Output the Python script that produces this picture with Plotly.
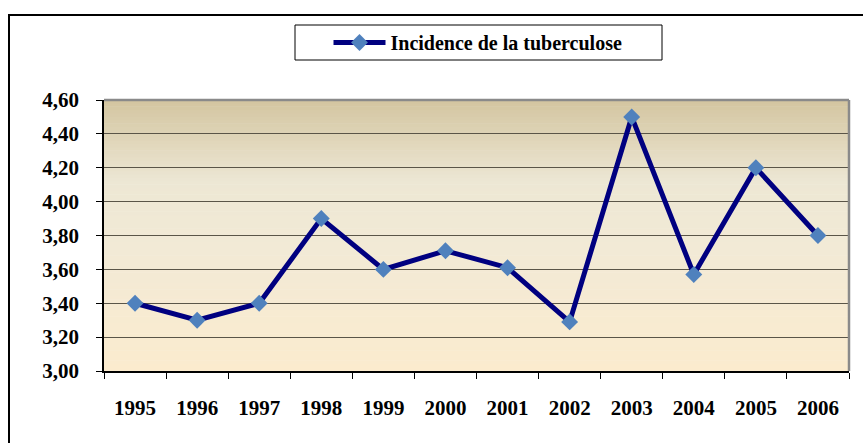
import plotly.graph_objects as go

years = ["1995", "1996", "1997", "1998", "1999", "2000", "2001", "2002", "2003", "2004", "2005", "2006"]
incidence = [3.40, 3.30, 3.40, 3.90, 3.60, 3.71, 3.61, 3.29, 4.50, 3.57, 4.20, 3.80]
series_name = "Incidence de la tuberculose"
y_ticks = [3.0, 3.2, 3.4, 3.6, 3.8, 4.0, 4.2, 4.4, 4.6]

FONT = "Liberation Serif"

fig = go.Figure()
fig.add_trace(go.Scatter(
    x=years, y=incidence, name=series_name, mode="lines+markers",
    line=dict(color="#000080", width=5),
    marker=dict(symbol="diamond", size=13, color="#4F81BD"),
))

L, R, T, B = 104, 14, 100, 72
W, H = 863, 443
pw, ph = W - L - R, H - T - B
def px(x):
    return (x - L) / pw
def py(y):
    return (H - B - y) / ph

# gradient background strips
stops = [(0.0, (251, 235, 206)), (0.45, (242, 234, 214)), (0.7, (237, 231, 212)), (1.0, (211, 197, 160))]
def col(t):
    for i in range(len(stops) - 1):
        a, ca = stops[i]
        b, cb = stops[i + 1]
        if a <= t <= b:
            f = (t - a) / (b - a)
            return "rgb(%d,%d,%d)" % tuple(round(ca[k] + (cb[k] - ca[k]) * f) for k in range(3))
    return "rgb(%d,%d,%d)" % stops[-1][1]

shapes = []
N = 80
for i in range(N):
    t0 = i / N
    t1 = (i + 1) / N
    shapes.append(dict(type="rect", xref="paper", yref="paper", x0=0, x1=1, y0=t0, y1=t1 + 0.002,
                       fillcolor=col((t0 + t1) / 2), line=dict(width=0), layer="below"))
# plot-area gray border top/right
shapes.append(dict(type="line", xref="paper", yref="paper", x0=0, x1=1, y0=1, y1=1,
                   line=dict(color="#8a8a8a", width=2.5)))
shapes.append(dict(type="line", xref="paper", yref="paper", x0=1, x1=1, y0=0, y1=1,
                   line=dict(color="#8a8a8a", width=2.5)))
# outer chart frame (left and top)
shapes.append(dict(type="line", xref="paper", yref="paper", x0=px(9), x1=px(9), y0=py(15), y1=py(445),
                   line=dict(color="black", width=2)))
shapes.append(dict(type="line", xref="paper", yref="paper", x0=px(8), x1=px(865), y0=py(15), y1=py(15),
                   line=dict(color="black", width=2)))
# legend box
shapes.append(dict(type="rect", xref="paper", yref="paper", x0=px(295), x1=px(662), y0=py(60), y1=py(25),
                   line=dict(color="black", width=1), fillcolor="white", layer="below"))

fig.update_layout(
    width=W, height=H,
    margin=dict(l=L, r=R, t=T, b=B, autoexpand=False),
    paper_bgcolor="white",
    plot_bgcolor="rgba(0,0,0,0)",
    separators=", ",
    font=dict(family=FONT, color="black", size=20),
    showlegend=True,
    legend=dict(
        orientation="h", x=px(478), xanchor="center", y=py(42.5), yanchor="middle",
        borderwidth=0, bgcolor="rgba(0,0,0,0)", itemwidth=52,
        font=dict(family=FONT, size=20, color="black", weight="bold"),
    ),
    shapes=shapes,
    xaxis=dict(
        type="category", tickson="boundaries", showgrid=False,
        range=[-0.5, len(years) - 0.5],
        showline=True, linecolor="black", linewidth=1.5,
        ticks="outside", ticklen=6, tickcolor="black",
        tickfont=dict(family=FONT, size=21, color="black", weight="bold"),
        ticklabelstandoff=17,
    ),
    yaxis=dict(
        range=[3.0, 4.6], tickvals=y_ticks, tickformat=".2f",
        showgrid=True, gridcolor="#5a5548", gridwidth=1,
        showline=True, linecolor="black", linewidth=1.5,
        ticks="outside", ticklen=6, tickcolor="black",
        tickfont=dict(family=FONT, size=21, color="black", weight="bold"),
        ticklabelstandoff=13,
        zeroline=False,
    ),
)

fig.write_html(
    "out.html",
    config={"displayModeBar": False},
    post_script="document.body.style.margin='0';document.body.style.overflow='hidden';",
)
